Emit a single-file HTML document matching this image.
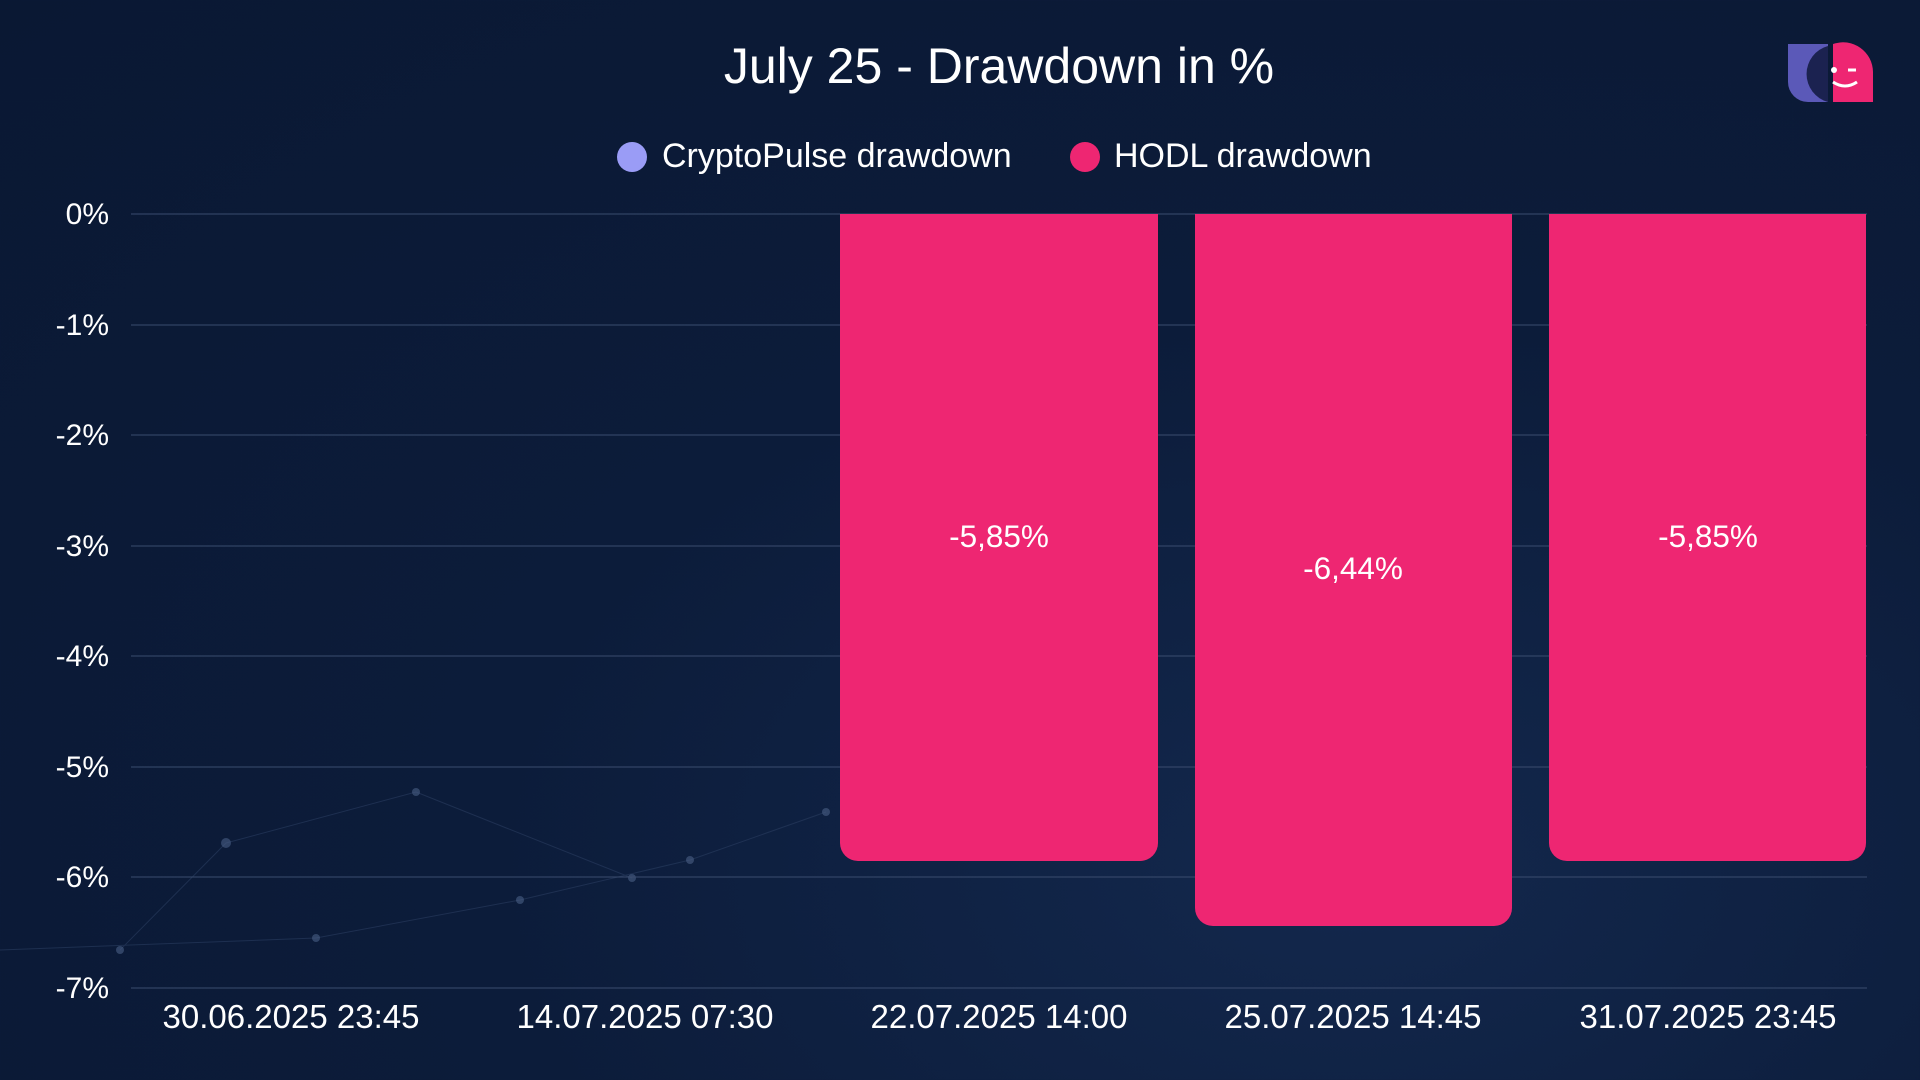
<!DOCTYPE html>
<html><head><meta charset="utf-8"><style>
html,body{margin:0;padding:0}
body{width:1920px;height:1080px;overflow:hidden;background:radial-gradient(ellipse at 70% 80%,#13284d 0%,#0c1c3a 45%,#0a1833 100%);font-family:"Liberation Sans",sans-serif;color:#fff;position:relative}
.t{position:absolute;white-space:nowrap}
</style></head><body>
<svg width="1920" height="1080" style="position:absolute;left:0;top:0">
<g stroke="#2a3d60" stroke-width="1" opacity="0.6">
<line x1="0" y1="950" x2="316" y2="938"/><line x1="316" y1="938" x2="520" y2="900"/><line x1="520" y1="900" x2="690" y2="860"/><line x1="690" y1="860" x2="826" y2="812"/><line x1="226" y1="843" x2="416" y2="792"/><line x1="416" y1="792" x2="632" y2="878"/><line x1="120" y1="950" x2="226" y2="843"/>
</g>
<g fill="#4a5f85" opacity="0.6">
<circle cx="316" cy="938" r="4"/><circle cx="520" cy="900" r="4"/><circle cx="690" cy="860" r="4"/><circle cx="826" cy="812" r="4"/><circle cx="226" cy="843" r="5"/><circle cx="416" cy="792" r="4"/><circle cx="632" cy="878" r="4"/><circle cx="120" cy="950" r="4"/>
</g>
<g stroke="#3a4c6e" stroke-width="1">
<line x1="131" y1="214" x2="1867" y2="214"/>
<line x1="131" y1="325" x2="1867" y2="325"/>
<line x1="131" y1="435" x2="1867" y2="435"/>
<line x1="131" y1="546" x2="1867" y2="546"/>
<line x1="131" y1="656" x2="1867" y2="656"/>
<line x1="131" y1="767" x2="1867" y2="767"/>
<line x1="131" y1="877" x2="1867" y2="877"/>
<line x1="131" y1="988" x2="1867" y2="988"/>
</g>
<g fill="#ee2672">
<path d="M840 214H1158V843a18 18 0 0 1-18 18H858a18 18 0 0 1-18-18Z"/>
<path d="M1195 214H1512V908a18 18 0 0 1-18 18H1213a18 18 0 0 1-18-18Z"/>
<path d="M1549 214H1866V843a18 18 0 0 1-18 18H1567a18 18 0 0 1-18-18Z"/>
</g>
<circle cx="632" cy="157" r="15" fill="#9a9cf6"/>
<circle cx="1085" cy="157" r="15" fill="#ee2672"/>
<g>
<path d="M1788 44h40v58h-20a20 20 0 0 1-20-20Z" fill="#5b59b8"/>
<path d="M1833 44a30 30 0 0 1 40 28v30h-40Z" fill="#ee2672"/>
<path d="M1828 46a29 29 0 0 0 0 56Z" fill="#1b2250"/>
<circle cx="1834" cy="70" r="3" fill="#fff"/>
<path d="M1833 82q12 8 24 0" stroke="#fff" stroke-width="3" fill="none"/>
<line x1="1848" y1="70" x2="1856" y2="70" stroke="#fff" stroke-width="3"/>
</g>
</svg>
<div class="t" style="left:0;width:1998px;text-align:center;top:37px;font-size:50px">July 25 - Drawdown in %</div>
<div class="t" style="left:662px;top:137px;font-size:34px">CryptoPulse drawdown</div>
<div class="t" style="left:1114px;top:137px;font-size:34px">HODL drawdown</div>
<div style="position:absolute;left:0;width:109px;top:0;font-size:30px;text-align:right">
<div class="t" style="right:0;top:198px">0%</div>
<div class="t" style="right:0;top:309px">-1%</div>
<div class="t" style="right:0;top:419px">-2%</div>
<div class="t" style="right:0;top:530px">-3%</div>
<div class="t" style="right:0;top:640px">-4%</div>
<div class="t" style="right:0;top:751px">-5%</div>
<div class="t" style="right:0;top:861px">-6%</div>
<div class="t" style="right:0;top:972px">-7%</div>
</div>
<div class="t" style="left:849px;width:300px;text-align:center;top:518px;font-size:31.5px">-5,85%</div>
<div class="t" style="left:1203px;width:300px;text-align:center;top:550px;font-size:31.5px">-6,44%</div>
<div class="t" style="left:1558px;width:300px;text-align:center;top:518px;font-size:31.5px">-5,85%</div>
<div class="t" style="left:141px;width:300px;text-align:center;top:998px;font-size:33px">30.06.2025 23:45</div>
<div class="t" style="left:495px;width:300px;text-align:center;top:998px;font-size:33px">14.07.2025 07:30</div>
<div class="t" style="left:849px;width:300px;text-align:center;top:998px;font-size:33px">22.07.2025 14:00</div>
<div class="t" style="left:1203px;width:300px;text-align:center;top:998px;font-size:33px">25.07.2025 14:45</div>
<div class="t" style="left:1558px;width:300px;text-align:center;top:998px;font-size:33px">31.07.2025 23:45</div>
</body></html>
